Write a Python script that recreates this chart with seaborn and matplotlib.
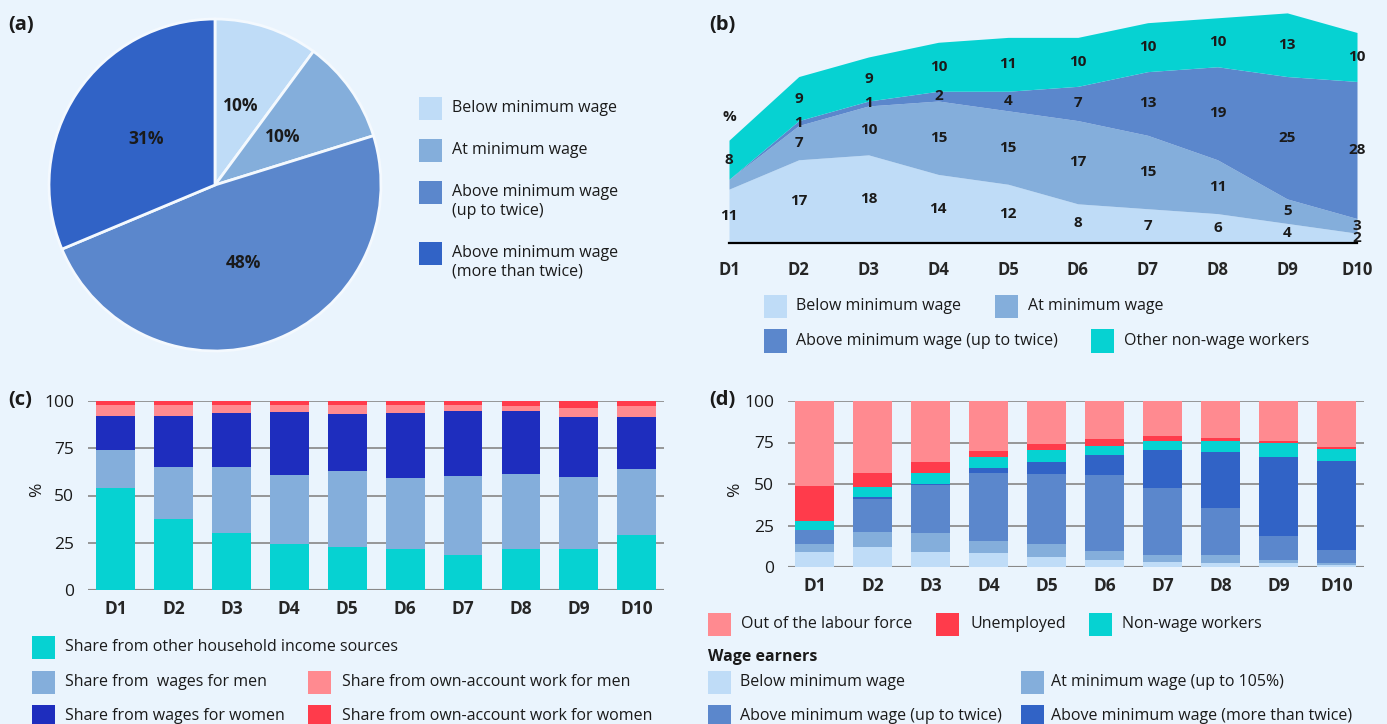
import numpy as np
import pandas as pd
import matplotlib
matplotlib.use("Agg")
import matplotlib.pyplot as plt
from matplotlib.patches import Rectangle
import seaborn as sns

# ---------------------------------------------------------------- data
deciles = [f"D{i}" for i in range(1, 11)]

# (a) wage earners by position relative to the minimum wage
pie_names = ["Below minimum wage", "At minimum wage",
             "Above minimum wage\n(up to twice)",
             "Above minimum wage\n(more than twice)"]
pie_values = [10, 10, 48, 31]

# (b) composition of workers by decile (%)
b_names = ["Below minimum wage", "At minimum wage",
           "Above minimum wage (up to twice)", "Other non-wage workers"]
b_below = [11, 17, 18, 14, 12, 8, 7, 6, 4, 2]
b_at = [2, 7, 10, 15, 15, 17, 15, 11, 5, 3]
b_above = [0, 1, 1, 2, 4, 7, 13, 19, 25, 28]
b_other = [8, 9, 9, 10, 11, 10, 10, 10, 13, 10]

# (c) household income sources by decile (%)
c_names = ["Share from other household income sources",
           "Share from  wages for men",
           "Share from wages for women",
           "Share from own-account work for men",
           "Share from own-account work for women"]
c_other = [54, 37.5, 30, 24.5, 23, 21.5, 18.5, 21.5, 21.5, 29]
c_wage_men = [20, 27.5, 35, 36.5, 40, 38, 42, 40, 38.5, 35]
c_wage_women = [18, 27, 28.5, 33, 30, 34, 34, 33, 31.5, 27.5]
c_own_men = [6, 6, 4.5, 4, 5, 4.5, 3.5, 3, 5, 6]
c_own_women = [2, 2, 2, 2, 2, 2, 2, 2.5, 3.5, 2.5]

# (d) labour status of household members by decile (%)
d_names = ["Below minimum wage", "At minimum wage (up to 105%)",
           "Above minimum wage (up to twice)",
           "Above minimum wage (more than twice)",
           "Non-wage workers", "Unemployed", "Out of the labour force"]
d_below = [9, 12, 9, 8.5, 6, 4.5, 3, 2.5, 2.5, 1.5]
d_at = [5, 9, 11.5, 7, 8, 5, 4, 5, 2, 1]
d_above = [8, 20, 29, 41, 42, 46, 40.5, 28, 14, 8]
d_more = [0, 1, 0.5, 3, 7.5, 12, 23, 34, 47.5, 53.5]
d_nonwage = [6, 6, 6.5, 6.5, 7, 5.5, 5.5, 6.5, 8.5, 7]
d_unemp = [21, 8.5, 6.5, 4, 3.5, 4, 3, 2, 1.5, 1.5]
d_out = [51, 43.5, 37, 30, 26, 23, 21, 22, 24, 27.5]

# ---------------------------------------------------------------- style
BG = "#EAF4FD"
C_BELOW = "#BFDCF7"
C_AT = "#84AEDB"
C_ABOVE = "#5B87CC"
C_MORE = "#3163C6"
C_TEAL = "#06D2D2"
C_WOMEN = "#1E2DBE"
C_PINK = "#FF8A90"
C_RED = "#FF3B4B"
TXT = "#1a1a1a"

sns.set_style("white")
plt.rcParams["font.family"] = ["Open Sans", "DejaVu Sans"]
plt.rcParams["text.color"] = TXT

W, H = 1387, 724
fig = plt.figure(figsize=(W / 100, H / 100), dpi=100, facecolor=BG)


def fx(x):
    return x / W


def fy(y):
    return 1 - y / H


def axes_px(left, top, right, bottom):
    ax = fig.add_axes([left / W, 1 - bottom / H, (right - left) / W, (bottom - top) / H])
    ax.set_facecolor("none")
    return ax


def key(x, yc, color, label, tx, size=11.5):
    fig.add_artist(Rectangle((fx(x), fy(yc + 11.5)), 23 / W, 23 / H,
                             transform=fig.transFigure, facecolor=color,
                             edgecolor="none"))
    if "\n" in label:
        yc += 9.5
    fig.text(fx(tx), fy(yc), label, ha="left", va="center", fontsize=size,
             color=TXT)


def panel_letter(x, y, s):
    fig.text(fx(x), fy(y), s, ha="left", va="center", fontsize=14.5,
             fontweight="bold", color=TXT)


# ---------------------------------------------------------------- (a) pie
ax_a = axes_px(49, 19, 381, 351)
ax_a.pie(pie_values, colors=[C_BELOW, C_AT, C_ABOVE, C_MORE], startangle=90,
         counterclock=False, labels=[f"{v}%" for v in pie_values],
         labeldistance=0.5,
         textprops=dict(fontsize=12.5, fontweight="bold", ha="center",
                        va="center", color=TXT),
         wedgeprops=dict(edgecolor="#F4F9FE", linewidth=2))
ax_a.set_xlim(-1.0, 1.0)
ax_a.set_ylim(-1.0, 1.0)
panel_letter(8, 25, "(a)")
for yc, c, name in zip([108, 150, 192, 253], [C_BELOW, C_AT, C_ABOVE, C_MORE],
                       pie_names):
    key(419, yc, c, name, 452)

# ---------------------------------------------------------------- (b) area
ax_b = axes_px(729, 8, 1357, 243)
xb = np.arange(len(deciles))
layers_b = [b_below, b_at, b_above, b_other]
ax_b.stackplot(xb, *layers_b, colors=[C_BELOW, C_AT, C_ABOVE, C_TEAL],
               linewidth=0)
ax_b.set_xlim(0, 9)
ax_b.set_ylim(0, 48)
sns.despine(ax=ax_b, left=True)
ax_b.spines["bottom"].set_color("black")
ax_b.spines["bottom"].set_linewidth(1.6)
ax_b.set_yticks([])
ax_b.set_xticks(xb)
ax_b.set_xticklabels(deciles, fontweight="bold", fontsize=12)
ax_b.tick_params(axis="x", length=0, pad=13)
for lbl in ax_b.get_xticklabels():
    lbl.set_clip_on(False)

hidden = {(1, 0)}  # thin sliver at D1 left unlabelled
base = np.zeros(len(deciles))
for li, vals in enumerate(layers_b):
    for j, v in enumerate(vals):
        if v > 0 and (li, j) not in hidden:
            ax_b.text(j, base[j] + v / 2, str(v), ha="center", va="center",
                      fontsize=11, fontweight="bold", color=TXT, clip_on=False)
    base = base + np.array(vals)
fig.text(fx(729), fy(117), "%", ha="center", va="center", fontsize=11,
         fontweight="bold")
panel_letter(709, 25, "(b)")
key(764, 306, C_BELOW, b_names[0], 796)
key(995, 306, C_AT, b_names[1], 1028)
key(764, 341, C_ABOVE, b_names[2], 796)
key(1091, 341, C_TEAL, b_names[3], 1124)


# ---------------------------------------------------------------- stacked bars
def stacked(ax, layers, colors):
    cum = np.cumsum(np.array(layers, dtype=float), axis=0)
    for k in range(len(layers) - 1, -1, -1):
        df = pd.DataFrame({"decile": deciles, "value": cum[k]})
        sns.barplot(data=df, x="decile", y="value", color=colors[k],
                    saturation=1, width=0.67, errorbar=None, linewidth=0,
                    ax=ax)
    ax.set_xlabel("")
    ax.set_ylabel("")
    ax.set_ylim(0, 100)
    ax.set_yticks([0, 25, 50, 75, 100])
    ax.yaxis.grid(True, color="#8f8f8f", linewidth=1.3)
    ax.set_axisbelow(True)
    sns.despine(ax=ax, left=True, bottom=True)
    ax.axhline(0, color="#555555", linewidth=1.5, zorder=0.5)
    ax.tick_params(axis="y", direction="in", length=7, width=1.2,
                   color="#666666", pad=10, labelsize=12.5, labelcolor=TXT)
    ax.tick_params(axis="x", length=0, pad=7, labelsize=12.5)
    ax.set_xticks(range(len(deciles)))
    ax.set_xticklabels(deciles, fontweight="bold")


ax_c = axes_px(88, 401, 664, 590)
stacked(ax_c, [c_other, c_wage_men, c_wage_women, c_own_men, c_own_women],
        [C_TEAL, C_AT, C_WOMEN, C_PINK, C_RED])
ax_c.set_xlim(-0.475, 9.47)
fig.text(fx(37), fy(490), "%", rotation=90, ha="center", va="center",
         fontsize=12.5)
panel_letter(8, 400, "(c)")
key(32, 647, C_TEAL, c_names[0], 65)
key(32, 682, C_AT, c_names[1], 65)
key(308, 682, C_PINK, c_names[3], 342)
key(32, 716, C_WOMEN, c_names[2], 65)
key(308, 716, C_RED, c_names[4], 342)

ax_d = axes_px(788, 401, 1364, 567)
stacked(ax_d, [d_below, d_at, d_above, d_more, d_nonwage, d_unemp, d_out],
        [C_BELOW, C_AT, C_ABOVE, C_MORE, C_TEAL, C_RED, C_PINK])
ax_d.set_xlim(-0.457, 9.474)
fig.text(fx(735), fy(490), "%", rotation=90, ha="center", va="center",
         fontsize=12.5)
panel_letter(709, 400, "(d)")
key(708, 624, C_PINK, d_names[6], 741)
key(936, 624, C_RED, d_names[5], 970)
key(1089, 624, C_TEAL, d_names[4], 1122)
fig.text(fx(708), fy(657), "Wage earners", ha="left", va="center",
         fontsize=11.5, fontweight="bold")
key(708, 682, C_BELOW, d_names[0], 740)
key(1021, 682, C_AT, d_names[1], 1051)
key(708, 716, C_ABOVE, d_names[2], 740)
key(1021, 716, C_MORE, d_names[3], 1051)

fig.savefig("out.png", dpi=100, facecolor=BG)
